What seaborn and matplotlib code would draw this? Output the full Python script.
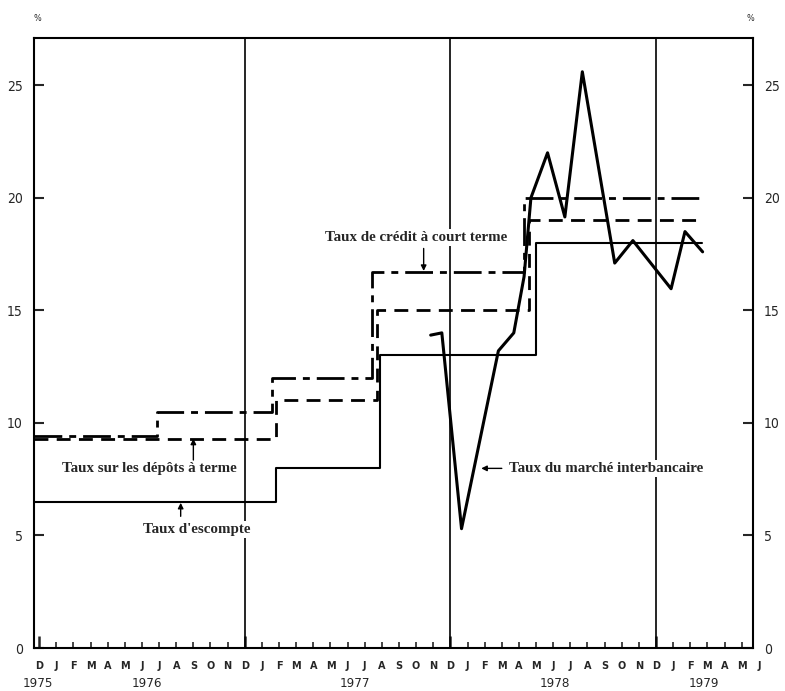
import matplotlib
matplotlib.use("Agg")
import matplotlib.pyplot as plt
import matplotlib.transforms as mtransforms
import seaborn as sns

# x = months counted from December 1975 (= 0)
credit_x = [-0.3, 6.9, 13.6, 19.4, 28.3, 38.7]
credit_y = [9.4, 10.5, 12.0, 16.7, 20.0, 20.0]
depot_x = [-0.3, 13.8, 19.7, 28.6, 38.7]
depot_y = [9.3, 11.0, 15.0, 19.0, 19.0]
escompte_x = [-0.3, 13.8, 19.9, 29.0, 38.7]
escompte_y = [6.5, 8.0, 13.0, 18.0, 18.0]
interbank_x = [22.85, 23.5, 24.65, 26.8, 27.7, 28.3, 28.7, 29.67, 30.68,
               31.7, 33.59, 34.65, 36.88, 37.69, 38.72]
interbank_y = [13.9, 14.0, 5.3, 13.2, 14.0, 16.5, 20.0, 22.0, 19.15,
               25.6, 17.1, 18.1, 15.96, 18.5, 17.6]

month_labels = list("DJFMAMJJASON") * 3 + list("DJFMAMJ")
year_labels = ["1975", "1976", "1977", "1978", "1979"]
year_pos = [-0.1, 6.3, 18.4, 30.1, 38.8]
y_ticks = [0, 5, 10, 15, 20, 25]

sns.set_style("white")
plt.rcParams["font.family"] = ["DejaVu Sans"]
plt.rcParams["font.stretch"] = "condensed"

fig = plt.figure(figsize=(7.85, 6.91), dpi=100)
ax = fig.add_axes([34 / 785, 1 - 648 / 691, (753 - 34) / 785, (648 - 38) / 691])

# december separators
for m in [12, 24, 36]:
    ax.axvline(m, color="black", lw=1.2, zorder=1)

sns.lineplot(x=escompte_x, y=escompte_y, ax=ax, color="black", lw=1.5,
             drawstyle="steps-post", estimator=None, sort=False, zorder=5)
sns.lineplot(x=depot_x, y=depot_y, ax=ax, color="black", lw=2.0,
             linestyle=(0, (5, 3)), drawstyle="steps-post",
             estimator=None, sort=False, zorder=5)
sns.lineplot(x=credit_x, y=credit_y, ax=ax, color="black", lw=2.0,
             linestyle=(0, (10, 2.5, 2.5, 2.5)), drawstyle="steps-post",
             estimator=None, sort=False, zorder=5)
sns.lineplot(x=interbank_x, y=interbank_y, ax=ax, color="black", lw=2.2,
             estimator=None, sort=False, zorder=6)

ax.set_xlim(-0.3, 41.66)
ax.set_ylim(0, 27.1)

# axes frame
for s in ax.spines.values():
    s.set_visible(True)
    s.set_color("black")
    s.set_linewidth(1.5)

ax.set_yticks(y_ticks)
ax.set_yticklabels([str(v) for v in y_ticks])
ax.tick_params(axis="y", direction="in", length=7, width=1.5, left=True,
               right=True, labelleft=True, labelright=True, labelsize=10, pad=8)

ax.set_xticks([0, 12, 24, 36])
ax.set_xticks([m for m in range(42) if m % 12 != 0], minor=True)
ax.set_xticklabels([])
ax.tick_params(axis="x", which="major", direction="in", length=9, width=1.8,
               bottom=True, top=False)
ax.tick_params(axis="x", which="minor", direction="in", length=4, width=1.2,
               bottom=True, top=False)
ax.set_xlabel("")
ax.set_ylabel("")

trans = mtransforms.blended_transform_factory(ax.transData, ax.transAxes)
for m, lab in enumerate(month_labels):
    ax.text(m, -0.029, lab, transform=trans, ha="center", va="center",
            fontsize=7, fontweight="bold", fontstretch="normal")
for p, lab in zip(year_pos, year_labels):
    ax.text(p, -0.058, lab, transform=trans, ha="center", va="center",
            fontsize=9.5)

ax.text(0.004, 1.032, "%", transform=ax.transAxes, ha="center", va="center",
        fontsize=6.5)
ax.text(0.996, 1.032, "%", transform=ax.transAxes, ha="center", va="center",
        fontsize=6.5)

# labels and arrows
serif = ["Liberation Serif", "DejaVu Serif"]
box = dict(facecolor="white", edgecolor="none", pad=1.5)
arrow = dict(arrowstyle="-|>", color="black", lw=1.0, mutation_scale=8,
             shrinkA=0, shrinkB=0)
lab_kw = dict(fontsize=10.8, fontweight="bold", family=serif,
              fontstretch="normal", bbox=box, zorder=4)

ax.text(22.0, 18.24, "Taux de crédit à court terme", ha="center",
        va="center", **lab_kw)
ax.annotate("", xy=(22.44, 16.75), xytext=(22.44, 17.75), arrowprops=arrow,
            zorder=7)

ax.text(6.45, 7.98, "Taux sur les dépôts à terme", ha="center", va="center",
        **lab_kw)
ax.annotate("", xy=(9.0, 9.3), xytext=(9.0, 8.35), arrowprops=arrow, zorder=7)

ax.text(9.19, 5.27, "Taux d'escompte", ha="center", va="center", **lab_kw)
ax.annotate("", xy=(8.26, 6.45), xytext=(8.26, 5.85), arrowprops=arrow,
            zorder=7)

ax.text(27.4, 7.98, "Taux du marché interbancaire", ha="left", va="center",
        **lab_kw)
ax.annotate("", xy=(25.8, 7.98), xytext=(27.0, 7.98), arrowprops=arrow,
            zorder=7)

fig.savefig("out.png", dpi=100)
